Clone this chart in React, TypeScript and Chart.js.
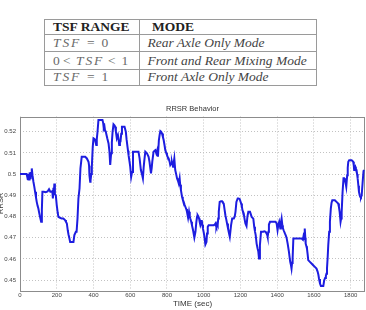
import React, { useEffect, useRef } from "react";
import { Chart, registerables } from "chart.js";

Chart.register(...registerables);

// RRSR trace over time (seconds)
const timeSec = [
  0, 20, 36, 40, 43, 46, 49, 52, 55, 58, 61, 64, 68, 73, 78, 82, 87, 91, 96, 100,
  105, 109, 115, 119, 122, 130, 140, 150, 158, 165, 172, 176, 179, 182, 184, 187, 190, 195, 200, 205,
  209, 218, 227, 236, 245, 250, 255, 260, 264, 267, 273, 282, 291, 296, 304, 308, 313, 318, 324, 329,
  336, 345, 355, 364, 373, 376, 378, 382, 384, 388, 391, 396, 400, 405, 409, 415, 418, 422, 427, 435,
  442, 449, 453, 456, 460, 463, 467, 471, 475, 482, 487, 491, 496, 500, 504, 509, 514, 518, 522, 527,
  533, 537, 540, 544, 547, 551, 555, 562, 569, 576, 580, 584, 588, 591, 596, 600, 605, 610, 615, 620,
  630, 645, 651, 658, 664, 669, 673, 676, 682, 691, 700, 705, 709, 713, 717, 720, 727, 736, 742, 747,
  751, 756, 760, 764, 768, 773, 778, 782, 787, 791, 796, 800, 805, 809, 814, 818, 823, 827, 833, 836,
  840, 845, 850, 855, 860, 864, 869, 872, 876, 882, 886, 891, 896, 900, 905, 909, 915, 920, 924, 927,
  932, 936, 941, 945, 949, 955, 960, 964, 967, 971, 975, 978, 982, 986, 989, 993, 996, 1000, 1004, 1009,
  1015, 1018, 1022, 1027, 1040, 1055, 1060, 1064, 1067, 1069, 1073, 1076, 1079, 1082, 1087, 1094, 1100, 1104, 1109, 1114,
  1118, 1123, 1127, 1132, 1136, 1142, 1146, 1149, 1155, 1164, 1169, 1173, 1178, 1185, 1190, 1196, 1204, 1208, 1211, 1218,
  1222, 1227, 1233, 1238, 1243, 1252, 1261, 1270, 1275, 1279, 1283, 1288, 1293, 1297, 1301, 1306, 1312, 1318, 1324, 1330,
  1337, 1342, 1346, 1348, 1352, 1355, 1361, 1370, 1379, 1391, 1397, 1402, 1406, 1411, 1414, 1417, 1420, 1424, 1428, 1431,
  1435, 1442, 1447, 1451, 1457, 1464, 1468, 1471, 1475, 1478, 1481, 1484, 1488, 1497, 1506, 1515, 1524, 1533, 1540, 1544,
  1547, 1549, 1551, 1553, 1555, 1559, 1562, 1566, 1569, 1578, 1587, 1596, 1605, 1614, 1620, 1624, 1628, 1633, 1638, 1645,
  1651, 1656, 1661, 1665, 1668, 1671, 1675, 1678, 1683, 1687, 1692, 1696, 1700, 1707, 1714, 1723, 1732, 1736, 1740, 1745,
  1748, 1751, 1756, 1761, 1765, 1769, 1773, 1776, 1781, 1784, 1787, 1792, 1798, 1805, 1810, 1814, 1817, 1819, 1822, 1825,
  1828, 1832, 1835, 1838, 1842, 1845, 1849, 1852, 1856, 1860, 1865, 1870, 1874,
];

const rrsr = [
  0.5, 0.5, 0.5, 0.4985, 0.4972, 0.5, 0.4975, 0.5008, 0.498, 0.501, 0.4995, 0.5027, 0.4995, 0.4964, 0.494, 0.4917, 0.489, 0.4869, 0.485, 0.4838,
  0.4815, 0.4798, 0.4775, 0.483, 0.4917, 0.4917, 0.4915, 0.4918, 0.4929, 0.4917, 0.4917, 0.492, 0.4885, 0.4935, 0.49, 0.4956, 0.4905, 0.49, 0.4854, 0.482,
  0.4798, 0.4794, 0.479, 0.479, 0.4783, 0.4775, 0.4767, 0.4735, 0.4715, 0.4704, 0.468, 0.468, 0.468, 0.4712, 0.4728, 0.4728, 0.479, 0.4885, 0.4932, 0.5027,
  0.5082, 0.5082, 0.5082, 0.5074, 0.5058, 0.504, 0.4995, 0.4964, 0.497, 0.5, 0.5035, 0.5129, 0.5169, 0.5166, 0.516, 0.5137, 0.5165, 0.52, 0.5255, 0.5255,
  0.5255, 0.5255, 0.524, 0.5216, 0.5224, 0.5205, 0.52, 0.5185, 0.5169, 0.5145, 0.5106, 0.5043, 0.5098, 0.515, 0.52, 0.5235, 0.523, 0.5224, 0.52, 0.5169,
  0.5184, 0.516, 0.5137, 0.515, 0.5153, 0.519, 0.5224, 0.5224, 0.5224, 0.52, 0.5165, 0.5137, 0.511, 0.509, 0.506, 0.5035, 0.4987, 0.501, 0.5106, 0.5106,
  0.5106, 0.5106, 0.5074, 0.5019, 0.5, 0.498, 0.503, 0.5058, 0.5106, 0.5098, 0.5082, 0.5058, 0.503, 0.5003, 0.503, 0.5058, 0.5106, 0.5113, 0.5098, 0.5113,
  0.5082, 0.5161, 0.5185, 0.5203, 0.52, 0.5192, 0.5175, 0.5161, 0.5135, 0.5113, 0.51, 0.509, 0.508, 0.5074, 0.506, 0.5043, 0.505, 0.5058, 0.5035, 0.505,
  0.5074, 0.5019, 0.5, 0.498, 0.4968, 0.4956, 0.498, 0.495, 0.4924, 0.4893, 0.488, 0.4869, 0.4855, 0.4846, 0.4835, 0.4822, 0.4794, 0.4822, 0.48, 0.479,
  0.4775, 0.4759, 0.474, 0.472, 0.47, 0.4728, 0.4775, 0.48, 0.4806, 0.48, 0.479, 0.4775, 0.4759, 0.477, 0.4783, 0.476, 0.4743, 0.4725, 0.4704, 0.4668,
  0.468, 0.472, 0.4751, 0.4759, 0.4759, 0.4759, 0.4762, 0.4767, 0.4755, 0.4751, 0.4765, 0.4759, 0.479, 0.4822, 0.4869, 0.4872, 0.4872, 0.4866, 0.4861, 0.483,
  0.4806, 0.4785, 0.4767, 0.4745, 0.4728, 0.4704, 0.4735, 0.4759, 0.479, 0.479, 0.48, 0.4822, 0.4869, 0.4885, 0.4885, 0.4882, 0.4861, 0.4845, 0.483, 0.4814,
  0.479, 0.4767, 0.4755, 0.48, 0.4822, 0.4822, 0.4798, 0.479, 0.4751, 0.473, 0.4712, 0.4672, 0.465, 0.4636, 0.4602, 0.4665, 0.4728, 0.4728, 0.4728, 0.473,
  0.4728, 0.472, 0.4712, 0.4704, 0.4728, 0.4762, 0.4775, 0.4775, 0.4775, 0.4775, 0.4767, 0.4735, 0.4759, 0.4775, 0.476, 0.4743, 0.477, 0.479, 0.4759, 0.4745,
  0.4735, 0.472, 0.471, 0.47, 0.4672, 0.4633, 0.4605, 0.4586, 0.457, 0.4554, 0.458, 0.4602, 0.4696, 0.4696, 0.4696, 0.4696, 0.4696, 0.4696, 0.469, 0.471,
  0.4704, 0.469, 0.4743, 0.47, 0.4672, 0.466, 0.4649, 0.462, 0.4594, 0.4586, 0.4578, 0.457, 0.4562, 0.4554, 0.454, 0.4526, 0.4505, 0.4483, 0.4472, 0.4472,
  0.4472, 0.4499, 0.451, 0.452, 0.453, 0.4554, 0.461, 0.4665, 0.4728, 0.4775, 0.4838, 0.4865, 0.4877, 0.4877, 0.4877, 0.4869, 0.4861, 0.4845, 0.4822, 0.4775,
  0.479, 0.4822, 0.4917, 0.498, 0.498, 0.4972, 0.4955, 0.494, 0.4995, 0.503, 0.5058, 0.5066, 0.5066, 0.5066, 0.5062, 0.5058, 0.504, 0.5019, 0.503, 0.5035,
  0.5025, 0.5019, 0.5, 0.498, 0.4945, 0.4917, 0.49, 0.4893, 0.489, 0.49, 0.496, 0.5015, 0.5019,
];

const xTicks = [0, 200, 400, 600, 800, 1000, 1200, 1400, 1600, 1800];
const yTicks = [0.45, 0.46, 0.47, 0.48, 0.49, 0.5, 0.51, 0.52];

const tableHeader = ["TSF RANGE", "MODE"];
const tableModes = ["Rear Axle Only Mode", "Front and Rear Mixing Mode", "Front Axle Only Mode"];

const SANS = '"Liberation Sans", Arial, Helvetica, sans-serif';
const SERIF = '"Liberation Serif", "Times New Roman", serif';

const frameAndLabels = {
  id: "frameAndLabels",
  beforeDatasetsDraw(chart: any) {
    const { ctx, chartArea: a } = chart;
    ctx.save();
    ctx.strokeStyle = "#8c8c8c";
    ctx.lineWidth = 1;
    ctx.strokeRect(Math.round(a.left) + 0.5, Math.round(a.top) + 0.5, Math.round(a.right - a.left) - 1, Math.round(a.bottom - a.top));
    ctx.restore();
  },
  afterDraw(chart: any) {
    const { ctx, chartArea: a } = chart;
    const cx = (a.left + a.right) / 2;
    ctx.save();
    ctx.fillStyle = "#333";
    ctx.textAlign = "center";
    ctx.textBaseline = "middle";
    ctx.font = `7.5px ${SANS}`;
    ctx.fillText("RRSR Behavior", cx, 9);
    ctx.font = `8px ${SANS}`;
    ctx.fillText("TIME (sec)", cx, 203.5);
    ctx.translate(1.2, (a.top + a.bottom) / 2);
    ctx.rotate(-Math.PI / 2);
    ctx.font = `7.5px ${SANS}`;
    ctx.fillText("RRSR", 0, 0);
    ctx.restore();
  },
};

function ModeTable() {
  const line = "#9a9a9a";
  const abs = (s: React.CSSProperties): React.CSSProperties => ({ position: "absolute", ...s });
  const txt = (left: number, baseline: number, content: React.ReactNode, extra: React.CSSProperties = {}) => (
    <span
      style={abs({
        left,
        top: baseline - 12.5,
        fontFamily: SERIF,
        fontSize: 13.5,
        lineHeight: "16px",
        whiteSpace: "nowrap",
        ...extra,
      })}
    >
      {content}
    </span>
  );
  const mathColor = "#6a6a6a";
  const tsf = (left: number, baseline: number) =>
    txt(left, baseline, "TSF", { fontStyle: "italic", letterSpacing: "1.9px", color: mathColor });
  const sym = (left: number, baseline: number, s: string) => txt(left, baseline, s, { color: mathColor });
  const rowBase = [47.7, 65, 81.7];
  return (
    <>
      <div style={abs({ left: 44, top: 19, width: 273, height: 67, border: `1px solid ${line}`, boxSizing: "border-box" })} />
      <div style={abs({ left: 139, top: 19, width: 1, height: 67, background: line })} />
      {[33.5, 51, 68.5].map((y) => (
        <div key={y} style={abs({ left: 44, top: y, width: 273, height: 1, background: line })} />
      ))}
      {txt(53, 31, tableHeader[0], { fontWeight: "bold", color: "#222" })}
      {txt(152, 31, tableHeader[1], { fontWeight: "bold", color: "#222" })}
      {tsf(53, rowBase[0])}
      {sym(87, rowBase[0], "=")}
      {sym(101.5, rowBase[0], "0")}
      {sym(53, rowBase[1], "0")}
      {sym(63, rowBase[1], "<")}
      {tsf(76, rowBase[1])}
      {sym(108, rowBase[1], "<")}
      {sym(121.5, rowBase[1], "1")}
      {tsf(53, rowBase[2])}
      {sym(87, rowBase[2], "=")}
      {sym(101.5, rowBase[2], "1")}
      {tableModes.map((m, i) => (
        <React.Fragment key={m}>{txt(147.5, rowBase[i], m, { fontStyle: "italic", color: "#444" })}</React.Fragment>
      ))}
    </>
  );
}

export default function App() {
  const canvasRef = useRef<HTMLCanvasElement | null>(null);

  useEffect(() => {
    const canvas = canvasRef.current;
    if (!canvas) return;
    const points = timeSec.map((t, i) => ({ x: t, y: rrsr[i] }));
    const tickFont = { family: SANS, size: 6 };
    const chart = new Chart(canvas, {
      type: "line",
      data: {
        datasets: [
          {
            data: points,
            borderColor: "#1d1de0",
            borderWidth: 2,
            pointRadius: 0,
            tension: 0,
            fill: false,
          },
        ],
      },
      options: {
        animation: false,
        responsive: false,
        devicePixelRatio: 1,
        layout: { padding: { left: 0, right: 1, top: 16.5, bottom: 0 } },
        plugins: { legend: { display: false }, tooltip: { enabled: false }, title: { display: false } },
        scales: {
          x: {
            type: "linear",
            min: 0,
            max: 1878,
            afterBuildTicks: (s: any) => {
              s.ticks = xTicks.map((v) => ({ value: v }));
            },
            afterFit: (s: any) => {
              s.height = 20;
              s.paddingLeft = 0;
              s.paddingRight = 0;
            },
            grid: { color: "#c2c2c2", lineWidth: 1, drawTicks: false },
            border: { display: false, dash: [1, 2] },
            ticks: {
              padding: 2,
              font: tickFont,
              color: "#444",
              maxRotation: 0,
              autoSkip: false,
              callback: (v: any) => String(v),
            },
          },
          y: {
            type: "linear",
            min: 0.4453,
            max: 0.5272,
            afterBuildTicks: (s: any) => {
              s.ticks = yTicks.map((v) => ({ value: v }));
            },
            afterFit: (s: any) => {
              s.width = 20;
              s.paddingTop = 0;
              s.paddingBottom = 0;
            },
            grid: { color: "#c2c2c2", lineWidth: 1, drawTicks: false },
            border: { display: false, dash: [1, 2] },
            ticks: {
              padding: 4,
              font: tickFont,
              color: "#444",
              autoSkip: false,
              callback: (v: any) => String(Number(Number(v).toFixed(2))),
            },
          },
        },
      },
      plugins: [frameAndLabels],
    });
    return () => chart.destroy();
  }, []);

  return (
    <div style={{ position: "fixed", left: 0, top: 0, width: 366, height: 310, background: "#fff", overflow: "hidden" }}>
      <ModeTable />
      <canvas
        ref={canvasRef}
        width={366}
        height={210}
        style={{ position: "absolute", left: 0, top: 100, width: 366, height: 210 }}
      />
    </div>
  );
}
